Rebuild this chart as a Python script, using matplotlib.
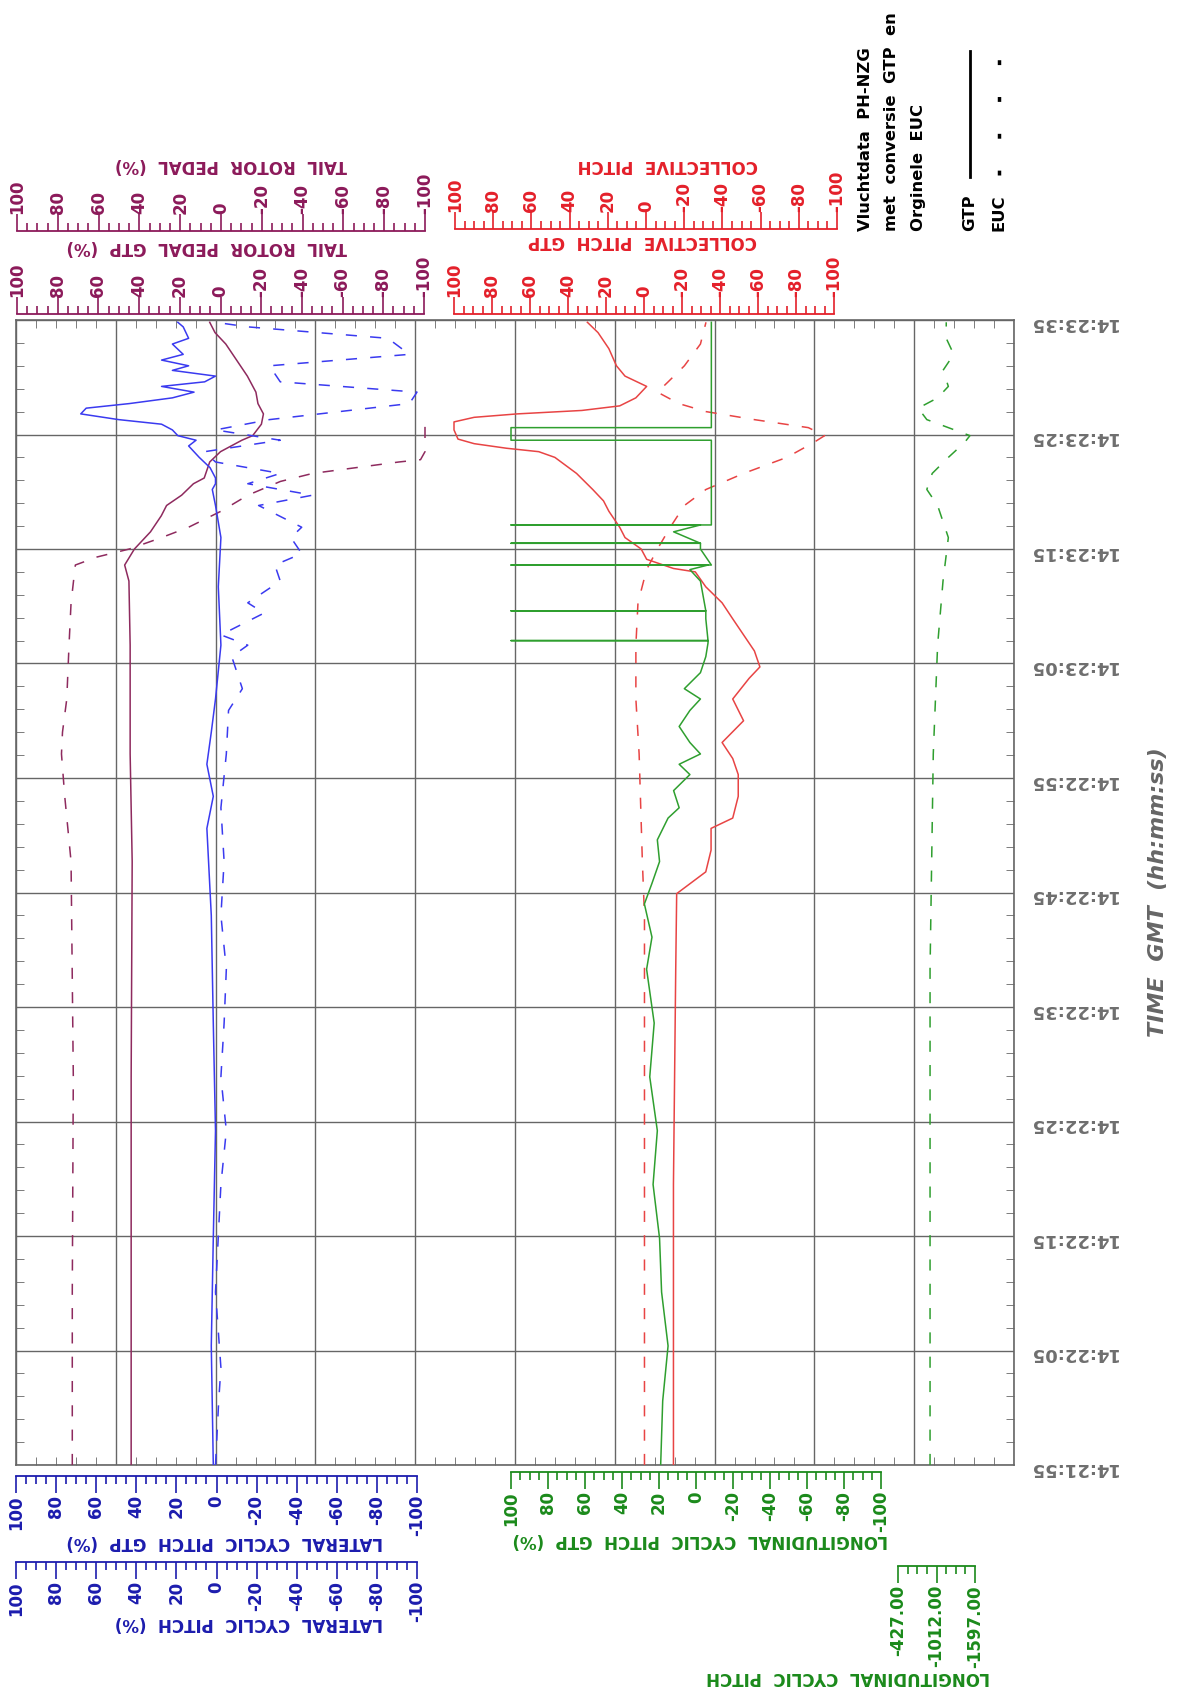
import matplotlib
matplotlib.use('Agg')
import matplotlib.pyplot as plt
from matplotlib.lines import Line2D
import numpy as np

plt.rcParams['font.family'] = ['DejaVu Sans']
plt.rcParams['lines.scale_dashes'] = False

W, H = 1179, 1690

# ---------------- data ----------------
# time in seconds after 14:21:55
time_ticks = [0, 10, 20, 30, 40, 50, 60, 70, 80, 90, 100]
time_labels = ['14:21:55', '14:22:05', '14:22:15', '14:22:25', '14:22:35', '14:22:45',
               '14:22:55', '14:23:05', '14:23:15', '14:23:25', '14:23:35']

pct_ticks = [100, 80, 60, 40, 20, 0, -20, -40, -60, -80, -100]
pct_labels = ['100', '80', '60', '40', '20', '0', '-20', '-40', '-60', '-80', '-100']
long_euc_ticks = [-427.0, -1012.0, -1597.0]
long_euc_labels = ['-427.00', '-1012.00', '-1597.00']

# (time s, value %)
pedal_gtp = [(0, 43.9), (33.9, 43.9), (52.7, 43.4), (62.1, 44.4), (71.6, 44.4), (77.2, 45.0),
             (78.6, 47.1), (80.0, 42.3), (81.5, 34.4), (82.9, 29.1), (83.8, 26.5), (84.7, 19.1),
             (85.7, 13.3), (86.2, 8.0), (87.6, 5.3), (88.5, 0.0), (89.5, -10.5), (89.9, -15.8),
             (90.9, -20.1), (91.8, -21.1), (92.7, -18.4), (93.7, -17.4), (95.1, -13.2),
             (96.5, -7.9), (97.9, -2.6), (98.9, 2.7), (99.8, 5.3)]
pedal_euc = [(0, 72.9), (15.1, 72.9), (33.9, 72.4), (52.7, 73.5), (58.4, 76.6), (62.1, 78.2),
             (64.0, 77.7), (66.9, 75.6), (71.6, 74.5), (75.3, 73.5), (78.6, 71.4), (79.3, 60.8),
             (80.0, 44.9), (81.0, 29.1), (81.9, 15.9), (83.3, 0.0), (84.7, -13.2), (85.9, -29.1),
             (86.6, -44.9), (87.1, -66.0), (87.6, -87.2), (87.8, -97.8), (88.5, -100), (91.0, -100)]
lateral_gtp = [(0, 1.6), (10.4, 2.6), (19.8, 1.6), (29.2, 0.5), (38.6, 1.6), (48.0, 2.6),
               (55.6, 4.8), (58.4, 1.6), (61.2, 4.8), (64.0, 2.6), (66.9, 0.5), (71.6, -2.2),
               (76.7, -0.9), (81.0, -2.2), (83.8, 0.5), (85.2, 2.1), (85.7, 0.5), (86.2, 0.5),
               (87.1, 3.2), (88.0, 8.6), (89.0, 13.9), (89.5, 10.2), (89.9, 19.3), (90.4, 22.0),
               (90.9, 27.4), (91.3, 48.8), (91.8, 67.7), (92.3, 65.0), (92.7, 43.5), (93.2, 22.0),
               (93.7, 11.2), (94.2, 27.4), (94.6, 5.9), (95.1, 0.5), (95.6, 22.0), (96.0, 13.9),
               (96.5, 27.4), (97.0, 16.6), (97.9, 22.0), (98.4, 13.9), (99.4, 16.6), (99.8, 19.3)]
lateral_euc = [(0, 0.5), (5.6, -1.1), (8.5, -2.2), (15.1, 0.5), (24.5, -2.2), (29.2, -4.9),
               (33.9, -2.2), (38.6, -3.8), (43.3, -4.9), (48.0, -2.2), (52.7, -3.8), (57.4, -2.2),
               (62.1, -4.9), (65.9, -6.0), (67.8, -12.9), (70.6, -7.6), (71.6, -15.6), (72.5, -2.2),
               (74.4, -23.7), (75.3, -15.6), (77.2, -31.8), (78.6, -29.1), (79.6, -42.5),
               (81.0, -37.1), (81.9, -42.5), (83.8, -21.0), (84.7, -47.9), (85.7, -15.6),
               (86.6, -31.8), (87.6, 0.5), (88.5, 5.9), (89.5, -31.8), (90.4, 0.5), (91.3, -26.4),
               (92.7, -96.2), (93.7, -100), (94.6, -31.8), (96.0, -26.4), (97.0, -96.2),
               (98.4, -85.5), (99.4, -15.6), (99.8, 0.5)]
coll_gtp = [(0, -15.5), (24.5, -15.5), (43.3, -16.7), (49.9, -17.2), (51.8, -32.5), (53.7, -35.3),
            (55.6, -35.3), (56.5, -46.7), (58.4, -49.6), (60.3, -49.6), (61.7, -46.7), (63.1, -41.1),
            (65.0, -52.4), (66.9, -46.7), (68.7, -55.3), (69.7, -61.0), (71.1, -58.1), (72.5, -52.4),
            (73.9, -46.7), (75.3, -41.1), (76.7, -32.5), (78.0, -27.0), (78.3, -15.5), (79.1, -1.4),
            (80.0, 1.5), (81.0, 10.0), (81.9, 12.8), (83.3, 18.5), (84.2, 21.3), (85.2, 27.0),
            (86.6, 35.5), (88.0, 46.9), (88.5, 55.4), (88.8, 72.4), (89.2, 89.4), (89.6, 97.9),
            (90.4, 100), (91.1, 100), (91.5, 89.4), (91.8, 66.7), (92.1, 32.7), (92.5, 12.8),
            (93.2, 4.3), (94.2, -1.4), (95.1, 10.0), (96.0, 14.5), (97.5, 18.5), (98.9, 24.2),
            (99.8, 29.8)]
coll_euc = [(0, 0.8), (33.9, 0.8), (48.0, 0.8), (52.7, 1.9), (62.1, 3.6), (66.9, 5.3), (71.6, 5.3),
            (75.3, 4.2), (78.2, -0.3), (80.0, -6.0), (81.9, -12.7), (83.8, -20.1), (85.2, -31.4),
            (86.6, -51.1), (88.0, -73.7), (89.3, -87.8), (89.9, -93.5), (90.6, -85.0), (91.3, -56.7),
            (92.0, -31.4), (92.7, -17.2), (93.7, -6.0), (94.6, -11.6), (96.0, -20.1), (97.9, -28.5),
            (99.8, -31.4)]
long_gtp = [(0, 19.1), (5.6, 18.0), (10.4, 15.1), (15.1, 18.6), (19.8, 19.7), (24.5, 23.2),
            (29.2, 20.9), (33.9, 25.0), (38.6, 22.6), (43.3, 26.7), (46.1, 23.8), (49.0, 27.9),
            (50.8, 23.8), (52.7, 19.7), (54.6, 20.9), (56.5, 15.1), (57.4, 9.1), (58.9, 12.1),
            (60.3, 3.3), (61.2, 9.1), (62.1, -2.4), (63.1, 3.3), (64.5, 9.1), (65.9, 3.3),
            (66.9, -2.4), (67.8, 6.3), (69.2, -2.4), (70.6, -5.3), (71.8, -6.5),
            (72.0, -6.5), (72.0, 100), (72.0, -6.5), (73.9, -5.3), (74.6, -5.3), (74.6, 100),
            (74.6, -5.3), (77.2, -2.4), (78.2, 3.3), (78.6, -6.5), (78.6, 100), (78.6, -8.3),
            (80.0, -2.4), (80.5, -2.4), (80.5, 100), (80.5, -2.4), (81.5, 12.1), (82.1, -2.4),
            (82.1, 100), (82.1, -8.3), (89.5, -8.3), (89.5, 100), (90.6, 100), (90.6, -8.3),
            (99.8, -8.3)]
long_euc = [(0, -914), (43.3, -914), (62.1, -963), (71.6, -1029), (77.2, -1111), (81.0, -1192),
            (83.8, -1029), (85.2, -865), (86.6, -947), (88.0, -1192), (89.3, -1438), (89.9, -1520),
            (90.6, -1192), (91.3, -865), (92.3, -734), (93.2, -1029), (94.2, -1192), (95.6, -1111),
            (97.0, -1274), (98.4, -1160), (99.8, -1160)]

# ---------------- colours ----------------
C_PED_T, C_PED = '#8c1a5a', '#8e2a5e'
C_LAT_T, C_LAT = '#1c1cae', '#3a3af0'
C_COL_T, C_COL = '#e4202a', '#e84444'
C_LON_T, C_LON = '#1b8a1b', '#2f9f2f'
C_GRID = '#666666'

fig = plt.figure(figsize=(W / 100, H / 100), dpi=100)


def fpos(x0, y_top, x1, y_bot):
    return [x0 / W, 1 - y_bot / H, (x1 - x0) / W, (y_bot - y_top) / H]


FX0, FX1, FY0, FY1 = 16, 1014, 321, 1466
frame = fpos(FX0, FY0, FX1, FY1)

ax = fig.add_axes(frame)
ax.set_xlim(0, 10)
ax.set_ylim(0, 100)
ax.set_xticks(np.arange(0, 11, 1))
ax.set_xticks(np.arange(0, 10.01, 0.2), minor=True)
ax.set_yticks(time_ticks)
ax.set_yticks(np.arange(0, 101, 2), minor=True)
ax.set_yticklabels(time_labels)
ax.grid(True, which='major', color=C_GRID, lw=1.0)
for s in ax.spines.values():
    s.set_color(C_GRID)
    s.set_linewidth(1.2)
ax.tick_params(axis='x', which='both', direction='in', top=True, bottom=True,
               labelbottom=False, labeltop=False, color=C_GRID)
ax.tick_params(axis='x', which='major', length=0)
ax.tick_params(axis='x', which='minor', length=6)
ax.tick_params(axis='y', which='both', direction='in', left=True, right=True,
               labelleft=False, labelright=True, color=C_GRID)
ax.tick_params(axis='y', which='major', length=0, pad=10, labelrotation=180,
               labelsize=13, labelcolor='#6e6e6e')
ax.tick_params(axis='y', which='minor', length=6)
for lb in ax.get_yticklabels():
    lb.set_fontweight('bold')


def series_axes(x100, xm100):
    a = fig.add_axes(frame)
    a.patch.set_visible(False)
    a.set_axis_off()
    v = lambda p: 100 - 200 * (p - x100) / (xm100 - x100)
    a.set_xlim(v(FX0), v(FX1))
    a.set_ylim(0, 100)
    return a


def draw(a, data, color, dashed):
    t = [d[0] for d in data]
    val = [d[1] for d in data]
    kw = dict(color=color, lw=1.1)
    if dashed:
        a.plot(val, t, dashes=(8, 9.5), **kw)
    else:
        a.plot(val, t, **kw)


a_ped_e = series_axes(17, 425)
a_ped_g = series_axes(17, 424)
a_lat = series_axes(16, 417)
a_col_e = series_axes(455, 837)
a_col_g = series_axes(454, 834)
a_lon = series_axes(511, 881)
# longitudinal EUC axes (raw units)
a_lon_e = fig.add_axes(frame)
a_lon_e.patch.set_visible(False)
a_lon_e.set_axis_off()
ve = lambda p: -427 - 1170 * (p - 898) / (975 - 898)
a_lon_e.set_xlim(ve(FX0), ve(FX1))
a_lon_e.set_ylim(0, 100)

draw(a_ped_e, pedal_euc, C_PED, True)
draw(a_ped_g, pedal_gtp, C_PED, False)
draw(a_lat, lateral_euc, C_LAT, True)
draw(a_lat, lateral_gtp, C_LAT, False)
draw(a_col_e, coll_euc, C_COL, True)
draw(a_col_g, coll_gtp, C_COL, False)
draw(a_lon, long_gtp, C_LON, False)
draw(a_lon_e, long_euc, C_LON, True)


# ---------------- scale bars ----------------
def scale_bar(x0, x1, y, color, top, ticks, labels, lim, minor):
    h = 0.0001
    a = fig.add_axes([x0 / W, 1 - y / H, (x1 - x0) / W, h])
    a.patch.set_visible(False)
    a.set_xlim(*lim)
    a.set_yticks([])
    for k, s in a.spines.items():
        s.set_visible(False)
    sp = 'top' if top else 'bottom'
    a.spines[sp].set_visible(True)
    a.spines[sp].set_color(color)
    a.spines[sp].set_linewidth(1.3)
    a.set_xticks(ticks)
    a.set_xticks(minor, minor=True)
    a.set_xticklabels(labels, fontweight='bold')
    a.tick_params(axis='x', which='both', direction='out', color=color, width=1.2,
                  top=top, bottom=not top, labeltop=top, labelbottom=not top,
                  labelcolor=color)
    a.tick_params(axis='x', which='major', length=12, pad=1, labelrotation=90, labelsize=12)
    a.tick_params(axis='x', which='minor', length=6)
    return a


minor5 = np.arange(-100, 101, 5)
scale_bar(17, 425, 232, C_PED_T, True, pct_ticks, pct_labels, (100, -100), minor5)
scale_bar(17, 424, 315, C_PED_T, True, pct_ticks, pct_labels, (100, -100), minor5)
scale_bar(455, 837, 230, C_COL_T, True, pct_ticks, pct_labels, (100, -100), minor5)
scale_bar(454, 834, 315, C_COL_T, True, pct_ticks, pct_labels, (100, -100), minor5)
scale_bar(16, 417, 1477, C_LAT_T, False, pct_ticks, pct_labels, (100, -100), minor5)
scale_bar(16, 417, 1563, C_LAT_T, False, pct_ticks, pct_labels, (100, -100), minor5)
scale_bar(511, 881, 1473, C_LON_T, False, pct_ticks, pct_labels, (100, -100), minor5)
scale_bar(898, 975, 1567, C_LON_T, False, long_euc_ticks, long_euc_labels, (-427, -1597),
          np.linspace(-427, -1597, 9))


def title(x_right, y, s, color, size=12):
    fig.text(x_right / W, 1 - y / H, s, rotation=180, ha='right', va='center',
             color=color, fontsize=size, fontweight='bold')


title(347, 165, 'TAIL  ROTOR  PEDAL  (%)', C_PED_T)
title(347, 247, 'TAIL  ROTOR  PEDAL  GTP  (%)', C_PED_T)
title(758, 165, 'COLLECTIVE  PITCH', C_COL_T)
title(757, 241, 'COLLECTIVE  PITCH  GTP', C_COL_T)
title(383, 1542, 'LATERAL  CYCLIC  PITCH  GTP  (%)', C_LAT_T)
title(383, 1623, 'LATERAL  CYCLIC  PITCH  (%)', C_LAT_T)
title(888, 1540, 'LONGITUDINAL  CYCLIC  PITCH  GTP  (%)', C_LON_T)
title(990, 1677, 'LONGITUDINAL  CYCLIC  PITCH', C_LON_T)

# time axis title
fig.text(1158 / W, 1 - 892 / H, 'TIME  GMT  (hh:mm:ss)', rotation=90, ha='center', va='center',
         color='#666666', fontsize=16, fontweight='bold', style='italic')

# header / legend
for x, s in [(866, 'Vluchtdata  PH-NZG'), (891, 'met  conversie  GTP  en'), (918, 'Orginele  EUC'),
             (970, 'GTP'), (999, 'EUC')]:
    fig.text(x / W, 1 - 231 / H, s, rotation=90, ha='center', va='bottom',
             color='black', fontsize=11.8, fontweight='bold')
fig.add_artist(Line2D([970 / W, 970 / W], [1 - 178 / H, 1 - 52 / H], color='black', lw=2,
                      transform=fig.transFigure))
fig.add_artist(Line2D([999 / W, 999 / W], [1 - 176 / H, 1 - 58 / H], color='black', lw=2.5,
                      dashes=(3.5, 23), transform=fig.transFigure))

fig.savefig('out.png', dpi=100)
